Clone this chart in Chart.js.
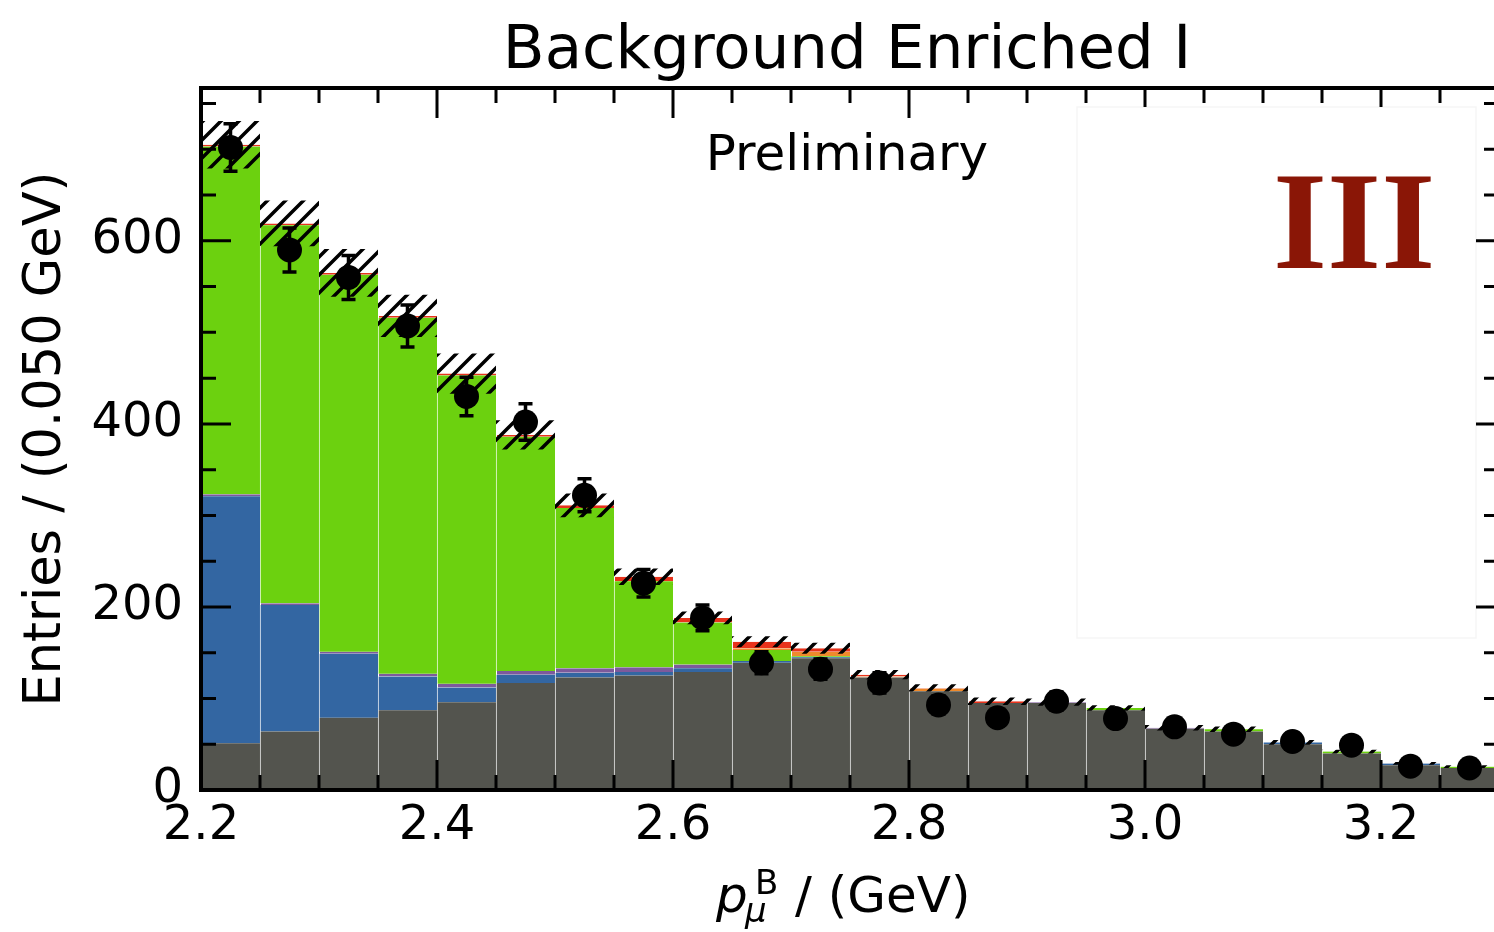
<!DOCTYPE html>
<html>
<head>
<meta charset="utf-8">
<script src="https://cdn.jsdelivr.net/npm/chart.js@4.4.1/dist/chart.umd.min.js"></script>
<style>
  html, body { margin: 0; padding: 0; background: #fff; overflow: hidden; }
  #wrap { position: absolute; left: 0; top: 0; width: 1520px; height: 932px; }
</style>
</head>
<body>
<div id="wrap"><canvas id="chart" width="1520" height="932"></canvas></div>
<script>
// bins of 0.050 GeV, from 2.20 to 3.30
const binCenters = [2.225, 2.275, 2.325, 2.375, 2.425, 2.475, 2.525, 2.575, 2.625, 2.675, 2.725,
                    2.775, 2.825, 2.875, 2.925, 2.975, 3.025, 3.075, 3.125, 3.175, 3.225, 3.275];

// stacked templates, bottom to top
const layerGrey   = [51, 64, 79, 87, 96, 117, 123, 125, 129, 139, 144, 123, 108, 95, 95, 87, 67, 64, 50, 40, 27, 24];
const layerBlue   = [270, 138, 70, 37, 16, 9, 5, 4, 4, 2, 1, 0, 0, 0, 0, 0, 0, 0, 2, 0, 2, 0];
const layerPurple = [2, 2, 2, 3, 4, 4, 5, 5, 4, 0, 0, 0, 0, 0, 1, 0, 1, 0, 0, 0, 0, 0];
const layerGreen  = [380, 413, 412, 389, 337, 256, 175, 94, 46, 12, 1, 0, 0, 0, 0, 2.5, 0, 2.5, 0, 2, 0, 1.5];
const layerOrange = [0, 0, 0, 0, 0, 0, 0, 0, 0, 2, 5, 1, 3, 0, 0, 0, 0, 0, 0, 0, 0, 0];
const layerRed    = [2, 2, 2, 2, 2, 2, 3, 5, 5, 7, 4, 2, 0.5, 2, 0, 0, 0, 0, 0, 0, 0, 0];

// uncertainty on the total template (half width of hatched band)
const templateUnc = [26, 25, 26, 23, 22, 16, 13, 9, 7, 6, 6, 5, 4, 4, 4, 3, 3, 3, 2.5, 2, 1.5, 1.5];

// data
const dataCounts = [702, 590, 560, 507, 430, 402, 322, 226, 188, 139, 132, 117, 93, 79, 97, 78, 69, 61, 53, 49, 26, 24];
const dataErr    = [26, 24, 24, 23, 21, 20, 18, 15, 14, 12, 11, 11, 10, 9, 10, 9, 8, 8, 7, 7, 5, 5];

const xTicks = [2.2, 2.4, 2.6, 2.8, 3.0, 3.2];
const yTicks = [0, 200, 400, 600];
const X_MIN = 2.2, X_MAX = 3.3, Y_MAX = 767;

const FONT = '"DejaVu Sans", sans-serif';

function hatchPattern() {
  const c = document.createElement('canvas');
  c.width = 18; c.height = 18;
  const g = c.getContext('2d');
  g.strokeStyle = '#000';
  g.lineWidth = 3.5;
  g.beginPath();
  g.moveTo(-2, 20); g.lineTo(20, -2);
  g.moveTo(-2, 2); g.lineTo(2, -2);
  g.moveTo(16, 20); g.lineTo(20, 16);
  g.stroke();
  return g.createPattern(c, 'repeat');
}

const totals = binCenters.map((_, i) =>
  layerGrey[i] + layerBlue[i] + layerPurple[i] + layerGreen[i] + layerOrange[i] + layerRed[i]);

function layer(values, color, thin) {
  return {
    type: 'bar',
    data: values.map((v, i) => ({ x: binCenters[i], y: v })),
    backgroundColor: color,
    borderColor: 'rgba(255,255,255,0.3)',
    borderWidth: { top: 0, right: 0, bottom: 0, left: 1 },
    stack: 'mc',
    order: 2,
    grouped: false,
    barPercentage: 1,
    categoryPercentage: 1,
    inflateAmount: thin ? 0 : 'auto'
  };
}

const errorBars = {
  id: 'errorBars',
  afterDatasetsDraw(chart) {
    const { ctx, scales: { x, y } } = chart;
    ctx.save();
    ctx.strokeStyle = '#000';
    ctx.lineWidth = 3.5;
    dataCounts.forEach((n, i) => {
      const px = x.getPixelForValue(binCenters[i]);
      const top = y.getPixelForValue(n + dataErr[i]);
      const bot = y.getPixelForValue(n - dataErr[i]);
      ctx.beginPath();
      ctx.moveTo(px, top); ctx.lineTo(px, bot);
      ctx.moveTo(px - 7, top); ctx.lineTo(px + 7, top);
      ctx.moveTo(px - 7, bot); ctx.lineTo(px + 7, bot);
      ctx.stroke();
    });
    ctx.restore();
  }
};

// inward ticks on all four sides + frame
const frame = {
  id: 'frame',
  afterDraw(chart) {
    const { ctx, chartArea: a, scales: { x, y } } = chart;
    ctx.save();
    ctx.strokeStyle = '#000';
    ctx.lineWidth = 3;
    ctx.beginPath();
    const xt = (v, len) => {
      const p = x.getPixelForValue(v);
      ctx.moveTo(p, a.bottom); ctx.lineTo(p, a.bottom - len);
      ctx.moveTo(p, a.top); ctx.lineTo(p, a.top + len);
    };
    const yt = (v, len) => {
      const p = y.getPixelForValue(v);
      ctx.moveTo(a.left, p); ctx.lineTo(a.left + len, p);
      ctx.moveTo(a.right, p); ctx.lineTo(a.right - len, p);
    };
    for (let k = 0; k <= 22; k++) xt(X_MIN + k * 0.05, 15);
    x.ticks.forEach(t => xt(t.value, 30));
    for (let v = 0; v <= Y_MAX; v += 50) yt(v, 15);
    y.ticks.forEach(t => yt(t.value, 30));
    ctx.stroke();
    ctx.lineWidth = 4;
    ctx.strokeRect(a.left, a.top, a.right - a.left, a.bottom - a.top);

    // label box in the upper right
    ctx.fillStyle = '#fff';
    ctx.fillRect(1077, 107, 399, 531);
    ctx.strokeStyle = 'rgba(0,0,0,0.04)';
    ctx.lineWidth = 1.5;
    ctx.strokeRect(1077, 107, 399, 531);
    ctx.restore();
  }
};

const texts = {
  id: 'texts',
  afterDraw(chart) {
    const { ctx, chartArea: a } = chart;
    const cx = (a.left + a.right) / 2 - 3;
    ctx.save();
    ctx.fillStyle = '#000';
    ctx.textBaseline = 'alphabetic';
    ctx.textAlign = 'center';
    ctx.font = '61px ' + FONT;
    ctx.fillText('Background Enriched I', cx, 68);
    ctx.font = '50px ' + FONT;
    ctx.fillText('Preliminary', cx, 170);

    ctx.textAlign = 'left';
    ctx.font = 'italic 50px ' + FONT;
    ctx.fillText('p', 716, 912);
    ctx.font = '34px ' + FONT;
    ctx.fillText('B', 755, 894);
    ctx.font = 'italic 34px ' + FONT;
    ctx.fillText('\u03bc', 745, 922);
    ctx.font = '50px ' + FONT;
    ctx.fillText('/ (GeV)', 795, 912);

    ctx.fillStyle = '#8a1606';
    ctx.font = 'bold 139px "Liberation Serif", "DejaVu Serif", serif';
    ctx.fillText('III', 1273, 268);
    ctx.restore();
  }
};

new Chart(document.getElementById('chart'), {
  type: 'bar',
  data: {
    datasets: [
      layer(layerGrey, '#53544e', false),
      layer(layerBlue, '#3366a2', false),
      layer(layerPurple, '#7d5a9c', true),
      layer(layerGreen, '#6cd10f', false),
      layer(layerOrange, '#ef8a2c', true),
      layer(layerRed, '#e8331c', true),
      {
        type: 'bar',
        data: totals.map((t, i) => ({ x: binCenters[i], y: [t - templateUnc[i], t + templateUnc[i]] })),
        backgroundColor: hatchPattern(),
        borderWidth: 0,
        stack: 'unc',
        order: 1,
        grouped: false,
        barPercentage: 1,
        categoryPercentage: 1,
        inflateAmount: 0
      },
      {
        type: 'line',
        data: dataCounts.map((v, i) => ({ x: binCenters[i], y: v })),
        showLine: false,
        pointRadius: 12.5,
        pointBackgroundColor: '#000',
        pointBorderWidth: 0,
        stack: 'data',
        order: 0
      }
    ]
  },
  options: {
    responsive: false,
    devicePixelRatio: 1,
    animation: false,
    layout: { padding: { top: 88, right: 21, left: 0, bottom: 0 } },
    plugins: { legend: { display: false }, tooltip: { enabled: false }, title: { display: false } },
    scales: {
      x: {
        type: 'linear',
        min: X_MIN,
        max: X_MAX,
        offset: false,
        grid: { display: false, drawTicks: false },
        border: { display: false },
        afterBuildTicks: s => { s.ticks = xTicks.map(v => ({ value: v })); },
        ticks: {
          autoSkip: false,
          maxRotation: 0,
          padding: 8,
          color: '#000',
          font: { family: FONT, size: 48 },
          callback: v => Number(v).toFixed(1)
        },
        afterFit: s => { s.height = 142; }
      },
      y: {
        stacked: true,
        min: 0,
        max: Y_MAX,
        grid: { display: false, drawTicks: false },
        border: { display: false },
        afterBuildTicks: s => { s.ticks = yTicks.map(v => ({ value: v })); },
        ticks: {
          autoSkip: false,
          padding: 18,
          color: '#000',
          font: { family: FONT, size: 48 },
          callback: v => String(v)
        },
        title: {
          display: true,
          text: 'Entries / (0.050 GeV)',
          color: '#000',
          font: { family: FONT, size: 51 },
          padding: { top: 16, bottom: 0 }
        },
        afterFit: s => { s.width = 201; }
      }
    }
  },
  plugins: [errorBars, frame, texts]
});
</script>
</body>
</html>
